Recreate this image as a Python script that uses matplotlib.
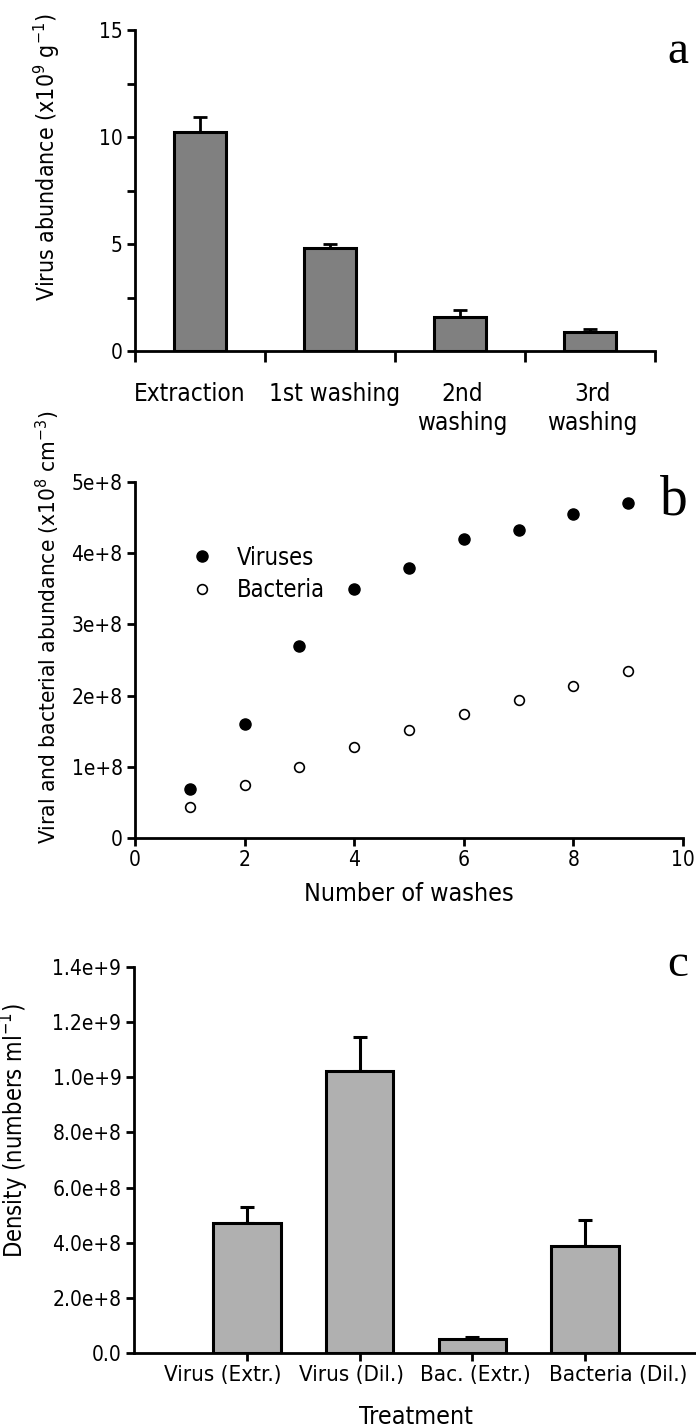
import matplotlib
matplotlib.use('Agg')
import matplotlib.pyplot as plt
import matplotlib.transforms as mtransforms
from matplotlib import font_manager

# pick a narrow sans if one is installed
fonts = font_manager.fontManager.ttflist
names = set(f.name for f in fonts)
narrow = False
if 'Liberation Sans Narrow' in names:
    plt.rcParams['font.family'] = ['Liberation Sans Narrow', 'DejaVu Sans']
    narrow = True
elif any(f.name == 'DejaVu Sans' and f.stretch == 'condensed' for f in fonts):
    plt.rcParams['font.family'] = ['DejaVu Sans']
    plt.rcParams['font.stretch'] = 'condensed'
    narrow = True
else:
    plt.rcParams['font.family'] = ['Liberation Sans', 'DejaVu Sans']
plt.rcParams['mathtext.default'] = 'regular'
k = 1.0 if narrow else 0.93

# panel a
a_labels = ['Extraction', '1st washing', '2nd\nwashing', '3rd\nwashing']
a_values = [10.24, 4.82, 1.58, 0.87]
a_err = [0.70, 0.16, 0.34, 0.17]

# panel b
b_washes = [1, 2, 3, 4, 5, 6, 7, 8, 9]
b_viruses = [0.695e8, 1.60e8, 2.69e8, 3.50e8, 3.79e8, 4.20e8, 4.33e8, 4.55e8, 4.70e8]
b_bacteria = [0.435e8, 0.74e8, 1.00e8, 1.276e8, 1.52e8, 1.74e8, 1.935e8, 2.13e8, 2.34e8]
b_yticks = [0, 1e8, 2e8, 3e8, 4e8, 5e8]
b_yticklabels = ['0', '1e+8', '2e+8', '3e+8', '4e+8', '5e+8']

# panel c
c_labels = ['Virus (Extr.)', 'Virus (Dil.)', 'Bac. (Extr.)', 'Bacteria (Dil.)']
c_values = [4.72e8, 10.21e8, 0.52e8, 3.87e8]
c_err = [0.56e8, 1.26e8, 0.06e8, 0.94e8]
c_yticks = [0, 2e8, 4e8, 6e8, 8e8, 10e8, 12e8, 14e8]
c_yticklabels = ['0.0', '2.0e+8', '4.0e+8', '6.0e+8', '8.0e+8', '1.0e+9', '1.2e+9', '1.4e+9']

fig = plt.figure(figsize=(6.96, 14.27), dpi=100)
W, H = 696, 1427

def place(l, t, r, b):
    return fig.add_axes([l / W, 1 - b / H, (r - l) / W, (b - t) / H])

def style(ax):
    for s in ['top', 'right']:
        ax.spines[s].set_visible(False)
    for s in ['left', 'bottom']:
        ax.spines[s].set_linewidth(2)
    ax.tick_params(width=2, length=6, labelsize=15 * k, direction='out', pad=3)
    ax.tick_params(which='minor', width=2, length=6)

def shift_labels(labels, shifts):
    # nudge tick labels sideways by a few pixels (call after tick_params)
    for lab, dx in zip(labels, shifts):
        lab.set_transform(lab.get_transform() +
                          mtransforms.ScaledTranslation(dx / 100, 0, fig.dpi_scale_trans))

lw = 2

# ---- a ----
ax = place(135, 30, 655, 351)
style(ax)
x = range(len(a_values))
ax.bar(x, a_values, width=0.4, color='#808080', edgecolor='black', linewidth=2.2, zorder=2)
ax.errorbar(x, a_values, yerr=[[0] * 4, a_err], fmt='none', ecolor='black',
            elinewidth=lw, capsize=5, capthick=lw, zorder=1)
ax.set_xlim(-0.5, 3.5)
ax.set_ylim(0, 15)
ax.set_xticks([-0.5, 0.5, 1.5, 2.5, 3.5])
ax.set_xticklabels([])
ax.set_xticks(list(x), minor=True)
ax.set_xticklabels(a_labels, minor=True, fontsize=17.5 * k, linespacing=1.3, va='top')
ax.tick_params(axis='x', which='minor', length=0, pad=22)
ax.tick_params(axis='x', which='major', length=8)
ax.set_yticks([0, 5, 10, 15])
ax.set_yticks([2.5, 7.5, 12.5], minor=True)
shift_labels(ax.get_xticklabels(minor=True), [-10, 5, 2, 2])
ax.set_ylabel('Virus abundance (x10$^{9}$ g$^{-1}$)', fontsize=16.6 * k)
ax.yaxis.set_label_coords(-0.14, 0.604)
fig.text(688 / W, 1 - 52 / H, 'a', family='Liberation Serif', fontsize=34,
         ha='right', va='center')

# ---- b ----
ax = place(135, 482, 683, 838)
style(ax)
ax.plot(b_washes, b_viruses, 'o', color='black', markersize=8, label='Viruses', clip_on=False)
ax.plot(b_washes, b_bacteria, 'o', mfc='white', mec='black', mew=1.2, markersize=7,
        label='Bacteria', clip_on=False)
ax.set_xlim(0, 10)
ax.set_ylim(0, 5e8)
ax.set_xticks([0, 2, 4, 6, 8, 10])
ax.set_yticks(b_yticks)
ax.set_yticklabels(b_yticklabels)
ax.set_xlabel('Number of washes', fontsize=18 * k, labelpad=8)
ax.set_ylabel('Viral and bacterial abundance (x10$^{8}$ cm$^{-3}$)', fontsize=16.2 * k)
ax.yaxis.set_label_coords(-0.133, 0.593)
ax.legend(loc='center left', bbox_to_anchor=(0.04, 0.742), frameon=False, fontsize=17 * k,
          handletextpad=0.5, labelspacing=0.35)
fig.text(688 / W, 1 - 500 / H, 'b', family='Liberation Serif', fontsize=40,
         ha='right', va='center')

# ---- c ----
ax = place(134, 967, 698, 1353)
style(ax)
x = range(len(c_values))
ax.bar(x, c_values, width=0.6, color='#b0b0b0', edgecolor='black', linewidth=2.2, zorder=2)
ax.errorbar(x, c_values, yerr=[[0] * 4, c_err], fmt='none', ecolor='black',
            elinewidth=2.2, capsize=5, capthick=2.2, zorder=1)
ax.set_xlim(-1, 4)
ax.set_ylim(0, 1.4e9)
ax.set_xticks(list(x))
ax.set_xticklabels(c_labels, fontsize=(16 if narrow else 13))
ax.set_yticks(c_yticks)
ax.set_yticklabels(c_yticklabels)
shift_labels(ax.get_xticklabels(), [-24, -8, 3, 33])
ax.set_xlabel('Treatment', fontsize=18 * k, labelpad=14)
ax.set_ylabel('Density (numbers ml$^{-1}$)', fontsize=17 * k)
ax.yaxis.set_label_coords(-0.183, 0.575)
fig.text(688 / W, 1 - 965 / H, 'c', family='Liberation Serif', fontsize=34,
         ha='right', va='center')

fig.savefig('out.png', dpi=100)
